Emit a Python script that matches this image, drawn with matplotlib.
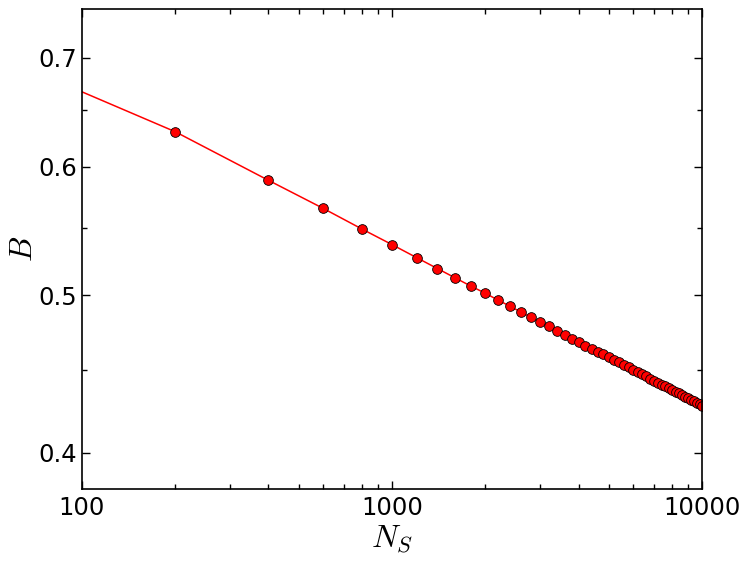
#!/usr/bin/env python3

import matplotlib
matplotlib.use("Agg")
import matplotlib.pyplot as plt
from matplotlib.ticker import FixedLocator, NullFormatter

# N_S values (line starts at 100, markers from 200 on)
ns_line = [100] + list(range(200, 10001, 200))
b_line = [0.6671,
          0.6304, 0.5884, 0.5655, 0.5492, 0.5372, 0.5274, 0.5193, 0.5124, 0.5064, 0.5014,
          0.4965, 0.4923, 0.4883, 0.4847, 0.4815, 0.4784, 0.4752, 0.4727, 0.4700, 0.4679,
          0.4654, 0.4632, 0.4615, 0.4599, 0.4581, 0.4563, 0.4546, 0.4530, 0.4514, 0.4499,
          0.4484, 0.4470, 0.4457, 0.4443, 0.4431, 0.4418, 0.4406, 0.4395, 0.4383, 0.4372,
          0.4362, 0.4351, 0.4341, 0.4331, 0.4322, 0.4312, 0.4303, 0.4294, 0.4285, 0.4276]
ns_pts = ns_line[1:]
b_pts = b_line[1:]

yticks = [0.4, 0.5, 0.6, 0.7]
yminor = [0.45, 0.55, 0.65]

plt.rcParams['mathtext.fontset'] = 'cm'
plt.rcParams['xtick.direction'] = 'in'
plt.rcParams['ytick.direction'] = 'in'

fig = plt.figure(figsize=(7.49, 5.63), dpi=100)
ax = fig.add_axes([0.109, 0.1314, 0.8287, 0.8526])

ax.plot(ns_line, b_line, '-', color='red', lw=1.1)
ax.plot(ns_pts, b_pts, 'o', color='red', mec='black', mew=0.6, ms=7)

ax.set_xscale('log')
ax.set_yscale('log')
ax.set_xlim(100, 10000)
ax.set_ylim(0.38, 0.75)

ax.set_xticks([100, 1000, 10000])
ax.set_xticklabels(['100', '1000', '10000'])
ax.yaxis.set_major_locator(FixedLocator(yticks))
ax.yaxis.set_minor_locator(FixedLocator(yminor))
ax.set_yticklabels(['0.4', '0.5', '0.6', '0.7'])
ax.yaxis.set_minor_formatter(NullFormatter())
ax.xaxis.set_minor_formatter(NullFormatter())

ax.tick_params(which='both', top=True, right=True, labelsize=17.5, width=1)
ax.tick_params(which='major', length=6)
ax.tick_params(axis='x', which='major', pad=5)
ax.tick_params(axis='y', which='major', pad=3)
ax.tick_params(which='minor', length=3.5)
for s in ax.spines.values():
    s.set_linewidth(1.2)

ax.set_xlabel(r'$N_S$', fontsize=23)
ax.set_ylabel(r'$B$', fontsize=23)
ax.xaxis.set_label_coords(0.5, -0.072)
ax.yaxis.set_label_coords(-0.068, 0.5)

plt.savefig("out.png", dpi=100)
